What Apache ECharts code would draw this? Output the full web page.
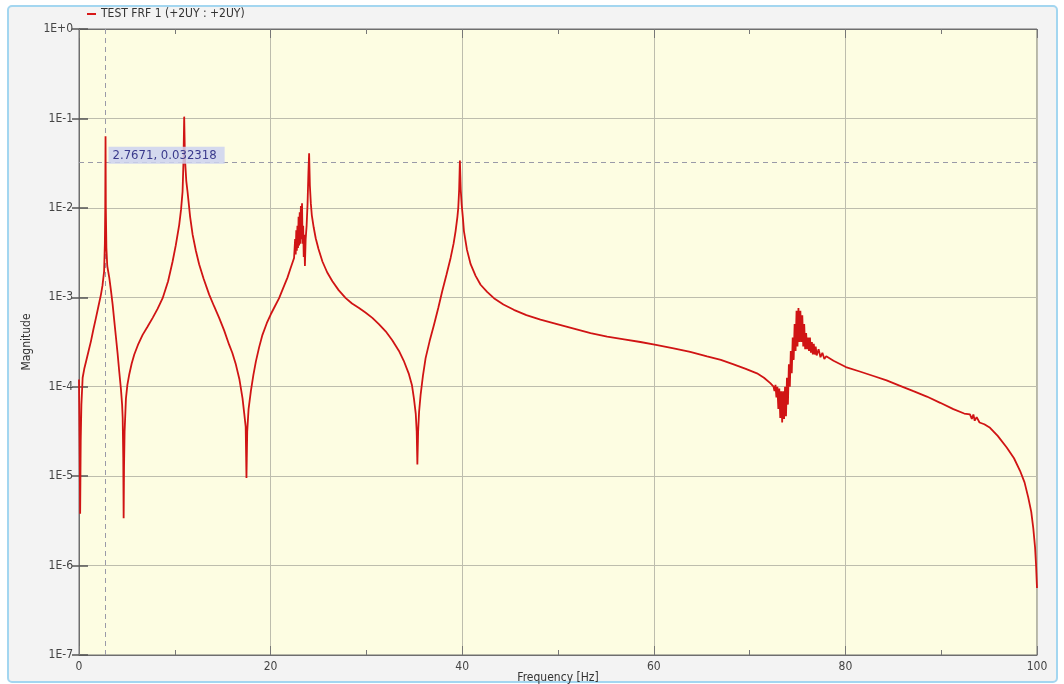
<!DOCTYPE html>
<html>
<head>
<meta charset="utf-8">
<script src="https://cdn.jsdelivr.net/npm/echarts@6/dist/echarts.min.js"></script>
<style>
html,body{margin:0;padding:0;background:#ffffff;}
#chart{width:1064px;height:684px;}
</style>
</head>
<body>
<div id="chart"></div>
<script>
// ---- data ----
const seriesName = 'TEST FRF 1 (+2UY : +2UY)';
// frequency of each read point [Hz]
const freqHz = [
  0.00, 0.06, 0.12, 0.18, 0.25, 0.38, 0.55, 0.73, 1.00, 1.25, 1.50, 1.77, 2.03, 2.29, 2.45, 2.62,
  2.70, 2.74, 2.77, 2.80, 2.86, 2.95, 3.16, 3.33, 3.51, 3.68, 3.86, 4.03, 4.20, 4.38, 4.50, 4.56,
  4.62, 4.66, 4.70, 4.76, 4.90, 5.05, 5.25, 5.50, 5.77, 6.20, 6.64, 7.15, 7.69, 8.20, 8.73, 9.30,
  9.77, 10.10, 10.46, 10.65, 10.81, 10.90, 10.98, 11.06, 11.20, 11.33, 11.60, 11.86, 12.20, 12.54,
  13.00, 13.59, 14.10, 14.63, 15.15, 15.67, 16.00, 16.37, 16.75, 17.07, 17.25, 17.40, 17.48, 17.56,
  17.70, 17.94, 18.20, 18.46, 18.80, 19.15, 19.60, 20.02, 20.45, 20.89, 21.30, 21.76, 22.10, 22.45,
  22.50, 22.56, 22.62, 22.68, 22.74, 22.80, 22.86, 22.92, 22.98, 23.04, 23.10, 23.16, 23.22, 23.28,
  23.34, 23.40, 23.46, 23.52, 23.58, 23.66, 23.76, 23.86, 23.95, 24.02, 24.10, 24.20, 24.30, 24.50,
  24.71, 25.00, 25.41, 25.90, 26.45, 27.10, 27.84, 28.50, 29.23, 29.90, 30.62, 31.30, 32.01, 32.70,
  33.40, 33.90, 34.44, 34.75, 34.96, 35.15, 35.25, 35.32, 35.40, 35.50, 35.66, 35.90, 36.18, 36.60,
  37.05, 37.50, 37.92, 38.35, 38.79, 39.10, 39.31, 39.50, 39.59, 39.68, 39.76, 39.85, 39.95, 40.07,
  40.18, 40.50, 40.88, 41.40, 41.92, 42.60, 43.31, 44.30, 45.39, 46.70, 48.17, 49.90, 51.65, 53.40,
  55.13, 56.90, 58.60, 60.09, 62.07, 63.80, 65.56, 67.00, 68.33, 69.60, 70.77, 71.50, 72.16, 72.50,
  72.60, 72.70, 72.80, 72.90, 73.00, 73.10, 73.20, 73.30, 73.40, 73.50, 73.60, 73.70, 73.80, 73.90,
  74.00, 74.10, 74.20, 74.30, 74.40, 74.50, 74.60, 74.70, 74.80, 74.90, 75.00, 75.10, 75.20, 75.30,
  75.40, 75.50, 75.60, 75.70, 75.80, 75.90, 76.00, 76.10, 76.20, 76.30, 76.40, 76.50, 76.60, 76.70,
  76.80, 76.90, 77.00, 77.20, 77.40, 77.60, 77.80, 78.00, 78.76, 80.05, 81.50, 82.93, 84.30, 85.71,
  87.10, 88.50, 89.90, 91.27, 92.40, 93.00, 93.20, 93.36, 93.50, 93.70, 94.00, 94.50, 95.10, 95.90,
  96.84, 97.60, 98.23, 98.70, 99.09, 99.40, 99.61, 99.80, 99.90, 100.00
];
// magnitude of each read point, written as decades (log10 of the magnitude)
const magnitudeDecade = [
  -3.92, -4.60, -5.42, -4.60, -4.20, -3.90, -3.80, -3.72, -3.60, -3.49, -3.36, -3.23, -3.10, -2.97, -2.87, -2.71,
  -2.40, -2.00, -1.20, -2.00, -2.45, -2.65, -2.78, -2.92, -3.08, -3.26, -3.45, -3.63, -3.83, -4.03, -4.20, -4.35,
  -4.80, -5.47, -4.90, -4.50, -4.13, -3.98, -3.86, -3.74, -3.64, -3.52, -3.42, -3.33, -3.23, -3.13, -3.01, -2.82,
  -2.60, -2.42, -2.19, -2.02, -1.82, -1.50, -0.98, -1.45, -1.70, -1.82, -2.10, -2.30, -2.48, -2.63,
  -2.79, -2.97, -3.10, -3.23, -3.37, -3.53, -3.62, -3.75, -3.92, -4.13, -4.30, -4.45, -5.02, -4.50,
  -4.25, -4.05, -3.87, -3.72, -3.56, -3.42, -3.29, -3.19, -3.10, -3.01, -2.90, -2.78, -2.67, -2.56,
  -2.55, -2.35, -2.52, -2.25, -2.48, -2.20, -2.45, -2.10, -2.42, -2.05, -2.40, -1.98, -2.35, -1.95,
  -2.40, -2.20, -2.55, -2.30, -2.65, -2.35, -2.20, -1.95, -1.60, -1.39, -1.75, -1.95, -2.08, -2.22,
  -2.34, -2.46, -2.60, -2.72, -2.82, -2.92, -3.01, -3.07, -3.12, -3.17, -3.23, -3.30, -3.38, -3.48,
  -3.60, -3.71, -3.86, -3.98, -4.13, -4.30, -4.50, -4.87, -4.50, -4.28, -4.09, -3.88, -3.68, -3.49,
  -3.31, -3.12, -2.93, -2.75, -2.56, -2.40, -2.26, -2.10, -2.00, -1.80, -1.47, -1.80, -1.97, -2.11,
  -2.26, -2.47, -2.63, -2.76, -2.86, -2.94, -3.01, -3.08, -3.14, -3.20, -3.25, -3.30, -3.35, -3.40,
  -3.44, -3.47, -3.50, -3.53, -3.57, -3.61, -3.66, -3.70, -3.75, -3.80, -3.85, -3.90, -3.96, -4.00,
  -4.05, -3.98, -4.12, -4.00, -4.25, -4.02, -4.35, -4.05, -4.40, -4.05, -4.36, -4.00, -4.33, -3.90,
  -4.20, -3.75, -4.00, -3.60, -3.85, -3.45, -3.70, -3.30, -3.60, -3.15, -3.55, -3.12, -3.50, -3.15,
  -3.50, -3.20, -3.55, -3.30, -3.58, -3.40, -3.58, -3.45, -3.60, -3.45, -3.62, -3.50, -3.64, -3.52,
  -3.64, -3.55, -3.65, -3.58, -3.67, -3.62, -3.69, -3.66, -3.71, -3.78, -3.83, -3.88, -3.93, -3.99,
  -4.05, -4.11, -4.18, -4.25, -4.30, -4.31, -4.36, -4.31, -4.38, -4.34, -4.40, -4.42, -4.46, -4.55,
  -4.68, -4.80, -4.94, -5.07, -5.24, -5.40, -5.58, -5.80, -5.99, -6.25
];
const cursorFreq = 2.7671;
const cursorMag = 0.032318;
const xTicks = [0, 20, 40, 60, 80, 100];

const data = freqHz.map((f, i) => [f, Math.pow(10, magnitudeDecade[i])]);

const chart = echarts.init(document.getElementById('chart'), null, {renderer: 'canvas'});
const fontFam = '"DejaVu Sans Condensed", "Liberation Sans Narrow", "Liberation Sans", sans-serif';
const expLabel = v => {
  const e = Math.round(Math.log10(v));
  return '1E' + (e >= 0 ? '+' : '') + e;
};
const gridCol = '#bdbdad';
const axisCol = '#6e6e6e';

chart.setOption({
  backgroundColor: '#ffffff',
  animation: false,
  graphic: [{
    type: 'rect', z: -100, silent: true,
    shape: {x: 8, y: 6, width: 1049, height: 676, r: 4},
    style: {fill: '#f3f3f3', stroke: '#a3d6f0', lineWidth: 2}
  }],
  legend: {
    left: 82, top: 3,
    itemWidth: 9, itemHeight: 2, itemGap: 6,
    icon: 'rect',
    textStyle: {fontFamily: fontFam, fontSize: 12, color: '#333'},
    data: [seriesName]
  },
  grid: {
    left: 79, right: 27, top: 29, bottom: 29,
    outerBoundsMode: 'none', containLabel: false,
    show: true, backgroundColor: '#fdfde2', borderColor: axisCol, borderWidth: 1
  },
  xAxis: [{
    type: 'value', min: 0, max: 100, interval: 20,
    name: 'Frequency [Hz]', nameLocation: 'middle', nameGap: 17, nameMoveOverlap: false,
    nameTextStyle: {fontFamily: fontFam, fontSize: 12, color: '#333', verticalAlign: 'top'},
    axisLine: {show: true, lineStyle: {color: axisCol}},
    axisTick: {show: true, inside: true, length: 9, lineStyle: {color: '#777'}},
    minorTick: {show: true, splitNumber: 2, length: 5, lineStyle: {color: '#777'}},
    axisLabel: {fontFamily: fontFam, fontSize: 12, color: '#444', margin: 6,
      formatter: v => xTicks.includes(v) ? String(v) : ''},
    splitLine: {show: true, lineStyle: {color: gridCol, width: 1}}
  }, {
    type: 'value', min: 0, max: 100, interval: 20, position: 'top',
    axisLine: {show: true, lineStyle: {color: axisCol}},
    axisTick: {show: true, inside: true, length: 9, lineStyle: {color: '#777'}},
    minorTick: {show: true, splitNumber: 2, length: 5, lineStyle: {color: '#777'}},
    axisLabel: {show: false}, splitLine: {show: false}
  }],
  yAxis: [{
    type: 'log', logBase: 10, min: 1e-7, max: 1, interval: 1,
    name: 'Magnitude', nameLocation: 'middle', nameGap: 46, nameRotate: 90, nameMoveOverlap: false,
    nameTextStyle: {fontFamily: fontFam, fontSize: 12, color: '#333'},
    axisLine: {show: true, lineStyle: {color: axisCol}},
    axisTick: {show: true, inside: true, length: 9, lineStyle: {color: '#555', width: 1.5}},
    axisLabel: {fontFamily: fontFam, fontSize: 12, color: '#444', margin: 6, formatter: expLabel},
    splitLine: {show: true, lineStyle: {color: gridCol, width: 1}}
  }, {
    type: 'log', logBase: 10, min: 1e-7, max: 1, interval: 1, position: 'right',
    axisLine: {show: true, lineStyle: {color: axisCol}},
    axisTick: {show: true, inside: true, length: 7, lineStyle: {color: '#555', width: 1.5}},
    axisLabel: {show: false}, splitLine: {show: false}
  }],
  series: [{
    name: 'cursor',
    type: 'line',
    data: [],
    z: 1,
    silent: true,
    markLine: {
      silent: true, symbol: 'none', z: 1,
      lineStyle: {color: '#9a9aa8', type: [5, 4], width: 1},
      label: {show: false},
      data: [
        [{coord: [cursorFreq, 1e-7]}, {coord: [cursorFreq, 1]}],
        [{coord: [0, cursorMag]}, {coord: [100, cursorMag]}]
      ]
    }
  }, {
    name: seriesName,
    type: 'line',
    data: data,
    z: 3,
    showSymbol: false,
    symbol: 'none',
    sampling: false,
    color: '#d81818',
    lineStyle: {color: '#d01414', width: 1.8},
    markPoint: {
      silent: true, symbol: 'circle', symbolSize: 0,
      data: [{coord: [cursorFreq, cursorMag]}],
      label: {
        show: true, position: 'right', distance: 0, offset: [3, -7],
        formatter: cursorFreq + ', ' + cursorMag,
        backgroundColor: 'rgba(205,210,240,0.85)',
        padding: [2, 8, 2, 4],
        color: '#3a3a8c', fontFamily: fontFam, fontSize: 13
      }
    }
  }]
});
</script>
</body>
</html>
